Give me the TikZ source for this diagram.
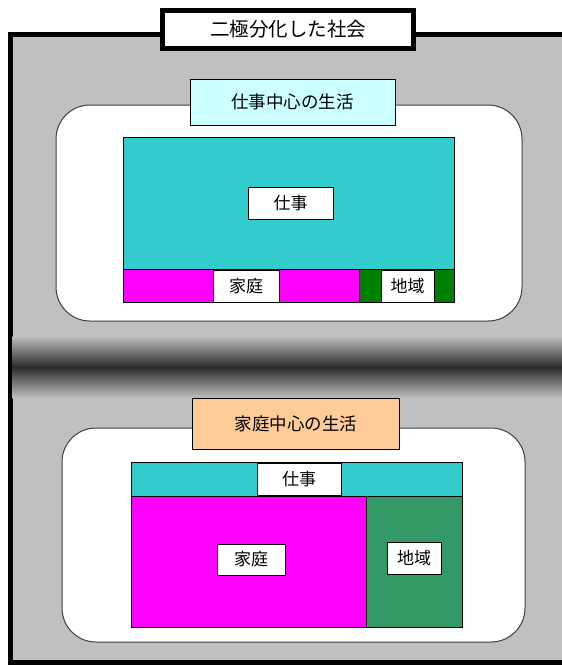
\documentclass[tikz,border=0pt]{standalone}
\usepackage{fontspec}
\newfontfamily\jp{Noto Sans CJK JP}
\definecolor{bggray}{HTML}{C0C0C0}
\definecolor{bandd}{HTML}{2A2A2A}
\definecolor{workc}{HTML}{33CCCC}
\definecolor{homec}{HTML}{FF00FF}
\definecolor{areac}{HTML}{008000}
\definecolor{areac2}{HTML}{339966}
\definecolor{lblcyan}{HTML}{CCFFFF}
\definecolor{lblpeach}{HTML}{FFCC99}
\definecolor{edgegray}{HTML}{404040}
\tikzset{
  cell/.style={draw=black, line width=0.8pt, inner sep=0pt, outer sep=0pt},
  tag/.style={cell, fill=white, font=\jp\fontsize{17}{19}\selectfont},
  lifebox/.style={draw=edgegray, line width=1pt, fill=white, rounded corners=34pt, inner sep=0pt, outer sep=0pt},
  lifelabel/.style={cell, font=\jp\fontsize{17.5}{20}\selectfont},
}
\begin{document}
\begin{tikzpicture}[x=1pt,y=-1pt]
\useasboundingbox (0,0) rectangle (562,665);
\clip (0,0) rectangle (562,665);
% outer frame
\node[draw=black, line width=5pt, fill=bggray, inner sep=0, outer sep=0, minimum width=590pt, minimum height=628pt] (frame) at (305,348) {};
% gradient band
\shade[top color=bggray, bottom color=bggray, middle color=bandd] (12.5,336) rectangle (562,398);
% title
\node[draw=black, line width=5pt, fill=white, inner sep=0, outer sep=0, minimum width=251pt, minimum height=38pt, font=\jp\fontsize{19.5}{22}\selectfont] (title) at (288,29.5) {二極分化した社会};

% upper life
\node[lifebox, minimum width=466pt, minimum height=216pt] (upper) at (289,213) {};
\node[lifelabel, fill=lblcyan, minimum width=205pt, minimum height=46pt] (upperlbl) at (292.5,102) {仕事中心の生活};
\node[cell, fill=workc, minimum width=331pt, minimum height=131.5pt] (uwork) at (289,203.25) {};
\node[cell, fill=homec, minimum width=235.5pt, minimum height=33pt] (uhome) at (241.25,285.5) {};
\node[cell, fill=areac, minimum width=95.5pt, minimum height=33pt] (uarea) at (406.75,285.5) {};
\node[tag, minimum width=85pt, minimum height=32pt] (uworkt) at (290.5,203) {仕事};
\node[tag, minimum width=66pt, minimum height=32pt] (uhomet) at (246,286) {家庭};
\node[tag, minimum width=53pt, minimum height=32pt] (uareat) at (407.5,286) {地域};

% lower life
\node[lifebox, minimum width=463pt, minimum height=214pt] (lower) at (293.5,535) {};
\node[lifelabel, fill=lblpeach, minimum width=207pt, minimum height=51pt] (lowerlbl) at (296,423.5) {家庭中心の生活};
\node[cell, fill=workc, minimum width=331pt, minimum height=34pt] (lwork) at (296.5,479) {};
\node[cell, fill=homec, minimum width=235pt, minimum height=131pt] (lhome) at (248.5,561.5) {};
\node[cell, fill=areac2, minimum width=96pt, minimum height=131pt] (larea) at (414,561.5) {};
\node[tag, minimum width=84pt, minimum height=32pt] (lworkt) at (299,479) {仕事};
\node[tag, minimum width=68pt, minimum height=31pt] (lhomet) at (251,559.5) {家庭};
\node[tag, minimum width=54pt, minimum height=32pt] (lareat) at (414,558) {地域};
\end{tikzpicture}
\end{document}
